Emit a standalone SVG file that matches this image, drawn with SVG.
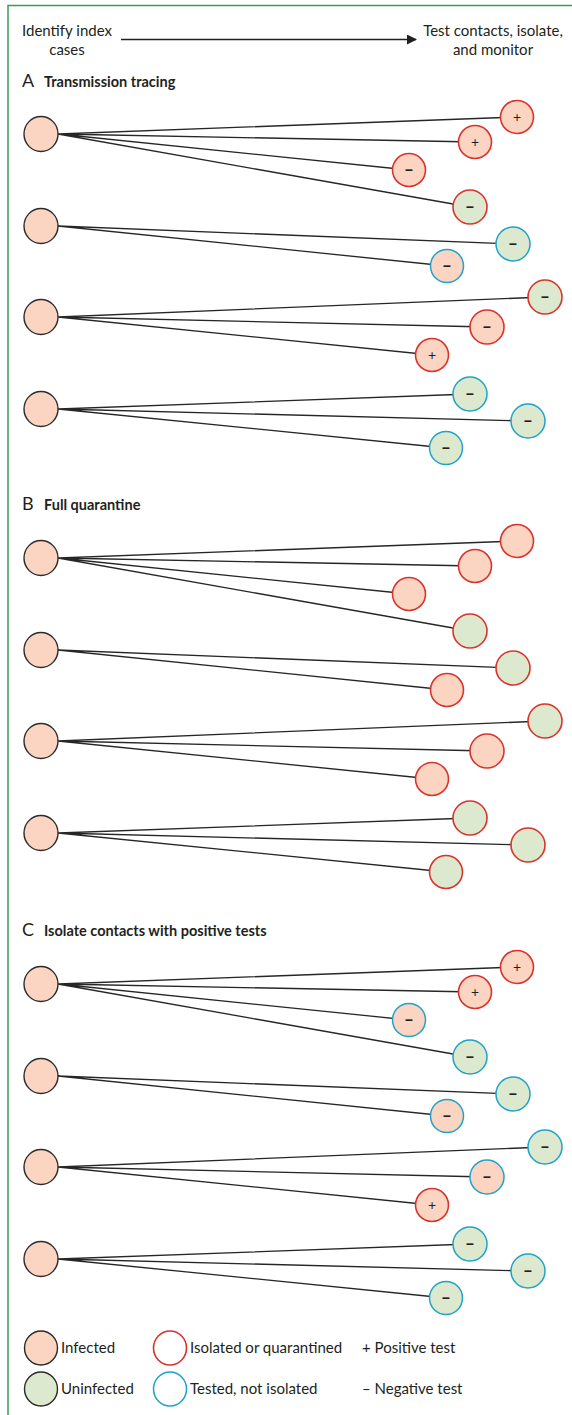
<svg xmlns="http://www.w3.org/2000/svg" width="572" height="1415" viewBox="0 0 572 1415">
<style>
text{font-family:Lato,"Open Sans","Liberation Sans",sans-serif;fill:#231f20}
.hd{font-size:15px;text-anchor:middle}
.sec{font-size:14.5px;font-weight:bold}
.let{font-size:18px}
.lg{font-size:15px}
.idx{fill:#fcd4c2;stroke:#2b2b2b;stroke-width:1.4}
.inf{fill:#fcd4c2}
.un{fill:#dde9cf}
.iso{stroke:#d9342c;stroke-width:1.6}
.tst{stroke:#1fa3c8;stroke-width:1.5}
.pos{font-size:14px;text-anchor:middle}
.neg{font-size:17px;font-weight:900;text-anchor:middle}
.lnk{stroke:#262626;stroke-width:1.3;fill:none}
</style>
<defs>
<marker id="ah" markerWidth="10" markerHeight="10" refX="9" refY="5" orient="auto" markerUnits="userSpaceOnUse">
<path d="M0,0 L10,5 L0,10 Z" fill="#231f20"/>
</marker>
</defs>
<rect width="572" height="1415" fill="#fff"/>
<path d="M8,1415 V5.5 H572" fill="none" stroke="#3a9a5e" stroke-width="1.5"/>

<g id="header">
<text class="hd" x="67" y="36">Identify index</text>
<text class="hd" x="67" y="55">cases</text>
<text class="hd" x="493" y="36">Test contacts, isolate,</text>
<text class="hd" x="493" y="55">and monitor</text>
</g>
<g id="titles">
<text class="let" x="22" y="87">A</text><text class="sec" x="44" y="87">Transmission tracing</text>
<text class="let" x="22" y="510">B</text><text class="sec" x="44" y="510">Full quarantine</text>
<text class="let" x="22" y="936">C</text><text class="sec" x="44" y="936">Isolate contacts with positive tests</text>
</g>

<g id="connectors" class="lnk">
<line x1="121" y1="39.5" x2="416" y2="39.5" stroke="#231f20" stroke-width="1.5" marker-end="url(#ah)"/>
<!-- A -->
<path d="M58,134 L517,117 M58,134 L475,142 M58,134 L409,170 M58,134 L470,207"/>
<path d="M58,226 L513,244 M58,226 L447,266"/>
<path d="M58,317 L545,297 M58,317 L487,327 M58,317 L432,355"/>
<path d="M58,409 L470,394 M58,409 L528,421 M58,409 L446,448"/>
<!-- B -->
<path d="M58,558 L517,541 M58,558 L475,566 M58,558 L409,594 M58,558 L470,631"/>
<path d="M58,650 L513,668 M58,650 L447,690"/>
<path d="M58,741 L545,721 M58,741 L487,751 M58,741 L432,779"/>
<path d="M58,833 L470,818 M58,833 L528,845 M58,833 L446,872"/>
<!-- C -->
<path d="M58,984 L517,967 M58,984 L475,992 M58,984 L409,1020 M58,984 L470,1057"/>
<path d="M58,1076 L513,1094 M58,1076 L447,1116"/>
<path d="M58,1167 L545,1147 M58,1167 L487,1177 M58,1167 L432,1205"/>
<path d="M58,1259 L470,1244 M58,1259 L528,1271 M58,1259 L446,1298"/>
</g>

<!-- Section A -->
<g id="A-i1"><ellipse class="idx" cx="41" cy="134" rx="17" ry="17.5"/></g>
<g id="A-c1a"><circle class="inf iso" cx="517" cy="117" r="16.5"/><text class="pos" x="517" y="122">+</text></g>
<g id="A-c1b"><circle class="inf iso" cx="475" cy="142" r="16.5"/><text class="pos" x="475" y="147">+</text></g>
<g id="A-c1c"><circle class="inf iso" cx="409" cy="170" r="16.5"/><text class="neg" x="409" y="175">–</text></g>
<g id="A-c1d"><circle class="un iso" cx="470" cy="207" r="17"/><text class="neg" x="470" y="212">–</text></g>
<g id="A-i2"><ellipse class="idx" cx="41" cy="226" rx="17" ry="17.5"/></g>
<g id="A-c2a"><circle class="un tst" cx="513" cy="244" r="17"/><text class="neg" x="513" y="249">–</text></g>
<g id="A-c2b"><circle class="inf tst" cx="447" cy="266" r="16.5"/><text class="neg" x="447" y="271">–</text></g>
<g id="A-i3"><ellipse class="idx" cx="41" cy="317" rx="17" ry="17.5"/></g>
<g id="A-c3a"><circle class="un iso" cx="545" cy="297" r="17"/><text class="neg" x="545" y="302">–</text></g>
<g id="A-c3b"><circle class="inf iso" cx="487" cy="327" r="17"/><text class="neg" x="487" y="332">–</text></g>
<g id="A-c3c"><circle class="inf iso" cx="432" cy="355" r="16.5"/><text class="pos" x="432" y="360">+</text></g>
<g id="A-i4"><ellipse class="idx" cx="41" cy="409" rx="17" ry="17.5"/></g>
<g id="A-c4a"><circle class="un tst" cx="470" cy="394" r="17"/><text class="neg" x="470" y="399">–</text></g>
<g id="A-c4b"><circle class="un tst" cx="528" cy="421" r="17"/><text class="neg" x="528" y="426">–</text></g>
<g id="A-c4c"><circle class="un tst" cx="446" cy="448" r="16.5"/><text class="neg" x="446" y="453">–</text></g>

<!-- Section B -->
<g id="B-i1"><ellipse class="idx" cx="41" cy="558" rx="17" ry="17.5"/></g>
<g id="B-c1a"><circle class="inf iso" cx="517" cy="541" r="16.5"/></g>
<g id="B-c1b"><circle class="inf iso" cx="475" cy="566" r="16.5"/></g>
<g id="B-c1c"><circle class="inf iso" cx="409" cy="594" r="16.5"/></g>
<g id="B-c1d"><circle class="un iso" cx="470" cy="631" r="17"/></g>
<g id="B-i2"><ellipse class="idx" cx="41" cy="650" rx="17" ry="17.5"/></g>
<g id="B-c2a"><circle class="un iso" cx="513" cy="668" r="17"/></g>
<g id="B-c2b"><circle class="inf iso" cx="447" cy="690" r="16.5"/></g>
<g id="B-i3"><ellipse class="idx" cx="41" cy="741" rx="17" ry="17.5"/></g>
<g id="B-c3a"><circle class="un iso" cx="545" cy="721" r="17"/></g>
<g id="B-c3b"><circle class="inf iso" cx="487" cy="751" r="17"/></g>
<g id="B-c3c"><circle class="inf iso" cx="432" cy="779" r="16.5"/></g>
<g id="B-i4"><ellipse class="idx" cx="41" cy="833" rx="17" ry="17.5"/></g>
<g id="B-c4a"><circle class="un iso" cx="470" cy="818" r="17"/></g>
<g id="B-c4b"><circle class="un iso" cx="528" cy="845" r="17"/></g>
<g id="B-c4c"><circle class="un iso" cx="446" cy="872" r="16.5"/></g>

<!-- Section C -->
<g id="C-i1"><ellipse class="idx" cx="41" cy="984" rx="17" ry="17.5"/></g>
<g id="C-c1a"><circle class="inf iso" cx="517" cy="967" r="16.5"/><text class="pos" x="517" y="972">+</text></g>
<g id="C-c1b"><circle class="inf iso" cx="475" cy="992" r="16.5"/><text class="pos" x="475" y="997">+</text></g>
<g id="C-c1c"><circle class="inf tst" cx="409" cy="1020" r="16.5"/><text class="neg" x="409" y="1025">–</text></g>
<g id="C-c1d"><circle class="un tst" cx="470" cy="1057" r="17"/><text class="neg" x="470" y="1062">–</text></g>
<g id="C-i2"><ellipse class="idx" cx="41" cy="1076" rx="17" ry="17.5"/></g>
<g id="C-c2a"><circle class="un tst" cx="513" cy="1094" r="17"/><text class="neg" x="513" y="1099">–</text></g>
<g id="C-c2b"><circle class="inf tst" cx="447" cy="1116" r="16.5"/><text class="neg" x="447" y="1121">–</text></g>
<g id="C-i3"><ellipse class="idx" cx="41" cy="1167" rx="17" ry="17.5"/></g>
<g id="C-c3a"><circle class="un tst" cx="545" cy="1147" r="17"/><text class="neg" x="545" y="1152">–</text></g>
<g id="C-c3b"><circle class="inf tst" cx="487" cy="1177" r="17"/><text class="neg" x="487" y="1182">–</text></g>
<g id="C-c3c"><circle class="inf iso" cx="432" cy="1205" r="16.5"/><text class="pos" x="432" y="1210">+</text></g>
<g id="C-i4"><ellipse class="idx" cx="41" cy="1259" rx="17" ry="17.5"/></g>
<g id="C-c4a"><circle class="un tst" cx="470" cy="1244" r="17"/><text class="neg" x="470" y="1249">–</text></g>
<g id="C-c4b"><circle class="un tst" cx="528" cy="1271" r="17"/><text class="neg" x="528" y="1276">–</text></g>
<g id="C-c4c"><circle class="un tst" cx="446" cy="1298" r="16.5"/><text class="neg" x="446" y="1303">–</text></g>

<!-- Legend -->
<g id="legend">
<g id="lg-infected"><ellipse class="idx" cx="41" cy="1348" rx="16.5" ry="17"/><text class="lg" x="61" y="1352.5">Infected</text></g>
<g id="lg-uninfected"><ellipse cx="41" cy="1389" rx="16.5" ry="17" fill="#dde9cf" stroke="#2b2b2b" stroke-width="1.4"/><text class="lg" x="61" y="1394">Uninfected</text></g>
<g id="lg-isolated"><ellipse cx="170" cy="1348" rx="16.5" ry="17" fill="#fff" class="iso"/><text class="lg" x="190" y="1352.5">Isolated or quarantined</text></g>
<g id="lg-tested"><ellipse cx="170" cy="1389" rx="16.5" ry="17" fill="#fff" class="tst"/><text class="lg" x="190" y="1394">Tested, not isolated</text></g>
<g id="lg-pos"><text class="lg" x="362" y="1352.5">+ Positive test</text></g>
<g id="lg-neg"><text class="lg" x="362" y="1394">– Negative test</text></g>
</g>
</svg>
